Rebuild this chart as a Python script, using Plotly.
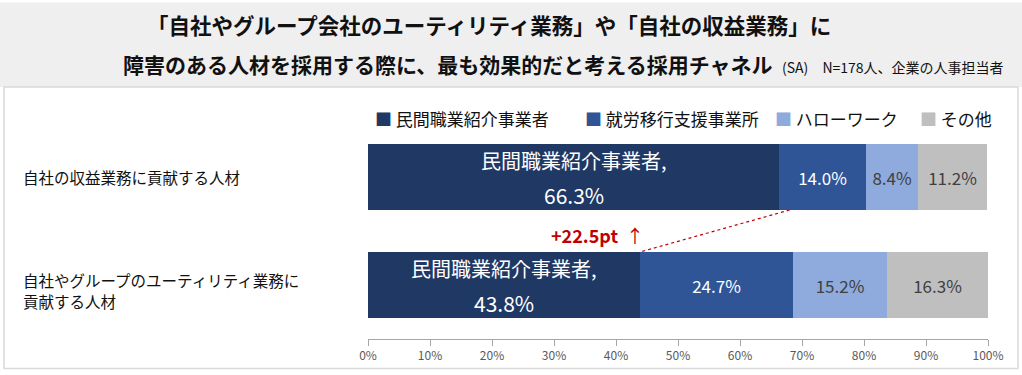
import plotly.graph_objects as go

categories = ["自社やグループのユーティリティ業務に<br>貢献する人材", "自社の収益業務に貢献する人材"]
series_names = ["民間職業紹介事業者", "就労移行支援事業所", "ハローワーク", "その他"]
v_private = [43.8, 66.3]
v_transition = [24.7, 14.0]
v_hellowork = [15.2, 8.4]
v_other = [16.3, 11.2]
x_ticks = [0, 10, 20, 30, 40, 50, 60, 70, 80, 90, 100]

series_values = [v_private, v_transition, v_hellowork, v_other]
colors = ["#203864", "#2f5597", "#8faadc", "#bfbfbf"]
text_colors = ["white", "white", "#404040", "#404040"]
FONT = "Noto Sans CJK JP"

fig = go.Figure()
ypos = [0, 1]
for i, (name, vals) in enumerate(zip(series_names, series_values)):
    texts = None if i == 0 else [f"{v:.1f}%" for v in vals]
    fig.add_trace(go.Bar(
        y=ypos, x=vals, name=name, orientation="h",
        marker=dict(color=colors[i], line=dict(width=0)),
        width=0.61,
        text=texts, textposition="inside" if i else "none", insidetextanchor="middle",
        textfont=dict(family=FONT, size=17, color=text_colors[i]),
        hoverinfo="skip", showlegend=False,
    ))

W, H = 1022, 375
L, R, T, B = 368, 34, 135, 32
pw, ph = W - L - R, H - T - B
UNIT = ph / 1.89  # pixels per y unit

def px(x):
    return (x - L) / pw

def py(y):
    return (H - B - y) / ph

shapes = [
    dict(type="rect", xref="paper", yref="paper", x0=px(0), x1=px(W), y0=py(86), y1=py(0),
         fillcolor="#efefef", line=dict(width=0), layer="below"),
    dict(type="rect", xref="paper", yref="paper", x0=px(4), x1=px(1018), y0=py(373), y1=py(86),
         fillcolor="rgba(0,0,0,0)", line=dict(color="#d9d9d9", width=1.5), layer="below"),
    dict(type="line", xref="x", yref="y",
         x0=v_private[1] + 1.7, y0=1 - 0.305, x1=v_private[0], y1=0 + 0.305,
         line=dict(color="#c00000", width=1.2, dash="dot")),
]

annotations = []
# titles
annotations.append(dict(xref="paper", yref="paper", x=px(489), y=py(22), xanchor="center", yanchor="middle",
                        text="<b>「自社やグループ会社のユーティリティ業務」や「自社の収益業務」に</b>",
                        showarrow=False, font=dict(family=FONT, size=21.5, color="#111111")))
annotations.append(dict(xref="paper", yref="paper", x=px(121), y=py(63), xanchor="left", yanchor="middle",
                        text="<b>障害のある人材を採用する際に、最も効果的だと考える採用チャネル</b>"
                             "  <span style='font-size:14px'>(SA)</span>"
                             "   <span style='font-size:14px'>N=178人、企業の人事担当者</span>",
                        showarrow=False, font=dict(family=FONT, size=21, color="#111111")))
# category labels (one annotation per text line for controlled spacing)
LINE_PX = 22
for yv, cat in zip(ypos, categories):
    lines = cat.split("<br>")
    n = len(lines)
    center_shift = 5.5 if n > 1 else 0.0
    for k, ln in enumerate(lines):
        off_px = center_shift + (k - (n - 1) / 2) * LINE_PX
        annotations.append(dict(xref="paper", yref="y", x=px(22), y=yv - off_px / UNIT,
                                xanchor="left", yanchor="middle", borderpad=0,
                                text=ln, align="left", showarrow=False,
                                font=dict(family=FONT, size=15.5, color="#111111")))
# dark segment labels (name, value on two well-spaced lines)
for yv, v in zip(ypos, v_private):
    annotations.append(dict(xref="x", yref="y", x=v / 2, y=yv + 0.15, xanchor="center", yanchor="middle",
                            text=f"{series_names[0]},", showarrow=False,
                            font=dict(family=FONT, size=20, color="white")))
    annotations.append(dict(xref="x", yref="y", x=v / 2, y=yv - 0.17, xanchor="center", yanchor="middle",
                            text=f"{v:.1f}%", showarrow=False,
                            font=dict(family=FONT, size=21, color="white")))
# legend
legend_x = [373, 583, 773, 918]
for lx, name, c in zip(legend_x, series_names, colors):
    annotations.append(dict(xref="paper", yref="paper", x=px(lx), y=py(118), xanchor="left", yanchor="middle",
                            text=f"<span style='color:{c}'>■</span> {name}", showarrow=False,
                            font=dict(family=FONT, size=17, color="#111111")))
# difference annotation
diff = v_private[1] - v_private[0]
annotations.append(dict(xref="x", yref="y", x=v_private[0] + 1.0, y=0.465, xanchor="right", yanchor="middle",
                        text=f"<b>+{diff:.1f}pt</b>  ↑", showarrow=False,
                        font=dict(family=FONT, size=18, color="#c00000")))

fig.update_layout(
    width=W, height=H,
    margin=dict(l=L, r=R, t=T, b=B),
    barmode="stack",
    paper_bgcolor="white", plot_bgcolor="white",
    shapes=shapes, annotations=annotations,
    xaxis=dict(range=[0, 100], tickvals=x_ticks, ticktext=[f"{t}%" for t in x_ticks],
               showgrid=False, zeroline=False, showline=True, linecolor="#a6a6a6", linewidth=1,
               ticks="outside", ticklen=6, tickcolor="#a6a6a6",
               tickfont=dict(family=FONT, size=12, color="#595959")),
    yaxis=dict(range=[-0.5, 1.39], showticklabels=False, showgrid=False, zeroline=False, showline=False),
    bargap=0,
)

fig.write_html("out.html", config={"displayModeBar": False},
               post_script="document.body.style.margin='0';document.body.style.overflow='hidden';")
